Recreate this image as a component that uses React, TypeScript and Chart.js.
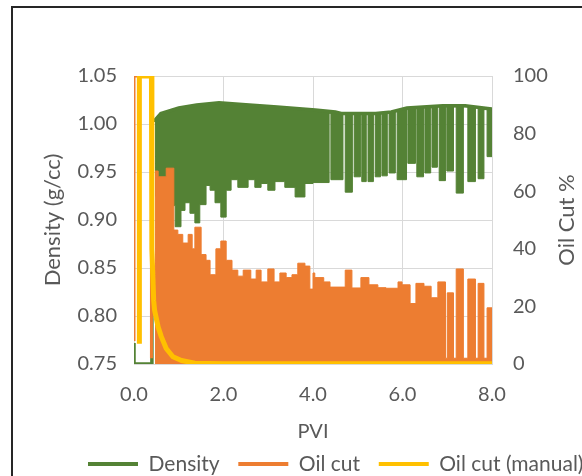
import React, { useEffect, useRef } from "react";
import { Chart, registerables } from "chart.js";

Chart.register(...registerables);

// ---------- data ----------
const xTitle = "PVI";
const yTitle = "Density (g/cc)";
const y1Title = "Oil Cut %";
const seriesNames = ["Density", "Oil cut", "Oil cut (manual)"];

// Density: upper envelope (with the initial pulse)
const densityTopPVI = [0, 0, 0.4, 0.4, 0.47, 0.6, 1.0, 1.4, 1.9, 2.5, 3.2, 4.05, 4.5, 4.63, 5.4, 5.75, 6.1, 6.9, 7.4, 8.0];
const densityTopVal = [0.772, 0.75, 0.75, 1.004, 1.004, 1.011, 1.0167, 1.0198, 1.022, 1.02, 1.0177, 1.0146, 1.0125, 1.011, 1.011, 1.0125, 1.0167, 1.019, 1.019, 1.0156];

// Density: lower edge of the oscillation band (step starts)
const densityLowPVI = [
  0.47, 0.6, 0.92, 1.05, 1.14, 1.25, 1.36, 1.47, 1.61, 1.7, 1.81, 1.94, 2.06, 2.17, 2.32, 2.55, 2.7, 2.84, 2.99, 3.15, 3.37, 3.6, 3.82, 4.0,
  4.36, 4.4, 4.67, 4.72, 4.88, 4.92, 5.06, 5.09, 5.19, 5.23, 5.35, 5.39, 5.51, 5.54, 5.66, 5.7, 5.84, 5.88,
  6.09, 6.12, 6.29, 6.32, 6.47, 6.5, 6.63, 6.66, 6.78, 6.82, 6.96, 6.99, 7.14, 7.2, 7.36, 7.46, 7.63, 7.69, 7.82, 7.89, 8.0,
];
const densityLowVal = [
  0.925, 0.915, 0.893, 0.91, 0.918, 0.907, 0.897, 0.916, 0.936, 0.931, 0.918, 0.903, 0.931, 0.942, 0.934, 0.942, 0.934, 0.938, 0.931, 0.94, 0.934, 0.924, 0.938, 0.939,
  1.011, 0.942, 1.01, 0.929, 1.01, 0.945, 1.01, 0.94, 1.01, 0.94, 1.01, 0.945, 1.011, 0.946, 1.011, 0.949, 1.013, 0.942,
  1.015, 0.959, 1.016, 0.945, 1.017, 0.949, 1.017, 0.955, 1.018, 0.941, 1.018, 0.951, 1.018, 0.928, 1.018, 0.94, 1.017, 0.943, 1.015, 0.966, 0.966,
];

// Oil cut: initial pulse
const oilPulsePVI = [0, 0, 0.39, 0.39];
const oilPulseVal = [8, 100, 100, 2];

// Oil cut: upper edge of the oscillation band (step starts)
const oilPVI = [
  0.47, 0.54, 0.72, 0.89, 0.98, 1.09, 1.21, 1.3, 1.36, 1.5, 1.61, 1.7, 1.83, 1.94, 2.06, 2.19, 2.32, 2.44, 2.61, 2.73, 2.84, 2.99, 3.13, 3.26, 3.4, 3.53, 3.66, 3.82, 3.93, 4.0,
  4.04, 4.24, 4.38, 4.72, 4.87, 5.07, 5.25, 5.45, 5.63, 5.9, 5.99, 6.17, 6.3, 6.48, 6.64, 6.79, 6.96, 7.0, 7.14, 7.2, 7.36, 7.46, 7.63, 7.69, 7.82, 7.89, 8.0,
];
const oilVal = [
  67, 65, 68, 46.5, 45, 42, 45, 40, 47.5, 38, 36, 31, 40, 42.7, 36, 32.6, 30.5, 32.6, 29.5, 32.6, 28.5, 33, 28.5, 31.6, 30, 31, 35, 34, 26, 31.6,
  30, 28.5, 26.7, 32.6, 26.4, 30, 27.5, 26.5, 26.3, 28.5, 27.5, 21, 28, 27, 23, 28.5, 2, 24.7, 2, 33, 2, 29.5, 2, 28, 2, 19.5, 19.5,
];

// Oil cut (manual)
const manualPVI = [0.12, 0.12, 0.39, 0.4, 0.44, 0.46, 0.54, 0.61, 0.72, 0.87, 1.06, 1.36, 2, 3, 4, 5, 6, 7, 8];
const manualVal = [7, 100, 100, 40, 22, 18.7, 12.8, 9.5, 5.4, 2.5, 1.2, 0.3, 0.1, 0.1, 0.1, 0.1, 0.1, 0.1, 0.1];

const xTicks = [0, 2, 4, 6, 8];

const pts = (xs: number[], ys: number[]) => xs.map((x, i) => ({ x, y: ys[i] }));

const GREEN = "#548235";
const ORANGE = "#ED7D31";
const YELLOW = "#FFC000";
const TEXT = "#595959";
const GRID = "#d9d9d9";
const FONT = "Lato";

const titlesPlugin = {
  id: "axisTitles",
  afterLayout(chart: any) {
    const lg = chart.legend;
    if (!lg || !lg.lineWidths) return;
    const p = lg.options.labels.padding;
    const start = (lg.left + p + lg.right - lg.lineWidths[0]) / 2;
    const dx = 88 - start;
    lg.left += dx;
    lg.right += dx;
    const dy = 8.5;
    lg.top += dy;
    lg.bottom += dy;
  },
  afterDraw(chart: any) {
    const { ctx, chartArea } = chart;
    const cy = (chartArea.top + chartArea.bottom) / 2;
    ctx.save();
    ctx.fillStyle = TEXT;
    ctx.textAlign = "center";
    ctx.textBaseline = "middle";
    ctx.font = `22px ${FONT}`;
    ctx.save();
    ctx.translate(53, cy);
    ctx.rotate(-Math.PI / 2);
    ctx.fillText(yTitle, 0, 0);
    ctx.restore();
    ctx.save();
    ctx.translate(567, cy);
    ctx.rotate(-Math.PI / 2);
    ctx.fillText(y1Title, 0, 0);
    ctx.restore();
    ctx.font = `20px ${FONT}`;
    ctx.fillText(xTitle, (chartArea.left + chartArea.right) / 2, 432);
    ctx.restore();
  },
};

export default function App() {
  const ref = useRef<HTMLCanvasElement | null>(null);

  useEffect(() => {
    if (!ref.current) return;
    const chart = new Chart(ref.current, {
      type: "line",
      data: {
        datasets: [
          {
            label: seriesNames[0],
            data: pts(densityTopPVI, densityTopVal),
            borderColor: GREEN,
            backgroundColor: GREEN,
            borderWidth: 3.5,
            pointRadius: 0,
            yAxisID: "y",
            order: 4,
            fill: false,
          },
          {
            label: seriesNames[1],
            data: pts(oilPVI, oilVal),
            borderColor: ORANGE,
            backgroundColor: ORANGE,
            borderWidth: 1,
            pointRadius: 0,
            stepped: true,
            yAxisID: "y1",
            order: 2,
            fill: "origin",
          },
          {
            label: seriesNames[2],
            data: pts(manualPVI, manualVal),
            borderColor: YELLOW,
            backgroundColor: YELLOW,
            borderWidth: 5,
            pointRadius: 0,
            yAxisID: "y1",
            order: 1,
            fill: false,
            borderJoinStyle: "round",
          },
          {
            label: "densityLow",
            data: pts(densityLowPVI, densityLowVal),
            borderColor: GREEN,
            backgroundColor: GREEN,
            borderWidth: 1,
            pointRadius: 0,
            stepped: true,
            yAxisID: "y",
            order: 5,
            fill: 0,
          },
          {
            label: "oilPulse",
            data: pts(oilPulsePVI, oilPulseVal),
            borderColor: ORANGE,
            backgroundColor: ORANGE,
            borderWidth: 3,
            pointRadius: 0,
            yAxisID: "y1",
            order: 3,
            fill: false,
          },
        ] as any,
      },
      options: {
        responsive: false,
        animation: false,
        parsing: false as any,
        normalized: true,
        layout: { padding: { left: 0, right: 0, top: 76, bottom: 0 } },
        plugins: {
          tooltip: { enabled: false },
          title: { display: false },
          legend: {
            position: "bottom",
            align: "center",
            labels: {
              font: { family: FONT, size: 21 },
              color: TEXT,
              boxWidth: 50,
              boxHeight: 4,
              padding: 18.7,
              generateLabels: (c: any) => {
                const items = (Chart.defaults.plugins.legend.labels as any).generateLabels(c);
                return items
                  .filter((it: any) => it.datasetIndex < 3)
                  .sort((a: any, b: any) => a.datasetIndex - b.datasetIndex)
                  .map((it: any) => ({ ...it, fillStyle: it.strokeStyle, lineWidth: 0 }));
              },
            },
          },
        },
        scales: {
          x: {
            type: "linear",
            min: 0,
            max: 8,
            afterBuildTicks: (s: any) => {
              s.ticks = xTicks.map((v) => ({ value: v }));
            },
            afterFit: (s: any) => {
              s.height = 62.3;
            },
            grid: { color: GRID, drawTicks: false, lineWidth: 1 },
            border: { color: GRID },
            ticks: {
              color: TEXT,
              font: { family: FONT, size: 20 },
              padding: 19,
              maxRotation: 0,
              callback: (v: any) => Number(v).toFixed(1),
            },
          },
          y: {
            type: "linear",
            position: "left",
            min: 0.75,
            max: 1.05,
            afterFit: (s: any) => {
              s.width = 134;
            },
            grid: { color: GRID, drawTicks: false, lineWidth: 1 },
            border: { color: GRID },
            ticks: {
              stepSize: 0.05,
              color: TEXT,
              font: { family: FONT, size: 20 },
              padding: 17,
              callback: (v: any) => Number(v).toFixed(2),
            },
          },
          y1: {
            type: "linear",
            position: "right",
            min: 0,
            max: 100,
            afterFit: (s: any) => {
              s.width = 90;
            },
            grid: { drawOnChartArea: false, drawTicks: false },
            border: { color: GRID },
            ticks: {
              stepSize: 20,
              color: TEXT,
              font: { family: FONT, size: 20 },
              padding: 21,
              callback: (v: any) => String(Math.round(Number(v))),
            },
          },
        },
      } as any,
      plugins: [titlesPlugin],
    });
    return () => chart.destroy();
  }, []);

  return (
    <div style={{ position: "fixed", left: 0, top: 0, width: 582, height: 476, overflow: "hidden", background: "#fff" }}>
      <canvas ref={ref} width={582} height={476} style={{ display: "block", width: 582, height: 476 }} />
      <div
        style={{
          position: "absolute",
          left: 11,
          top: 6,
          width: 620,
          height: 520,
          borderLeft: "2px solid #262626",
          borderTop: "2px solid #262626",
          pointerEvents: "none",
        }}
      />
    </div>
  );
}
